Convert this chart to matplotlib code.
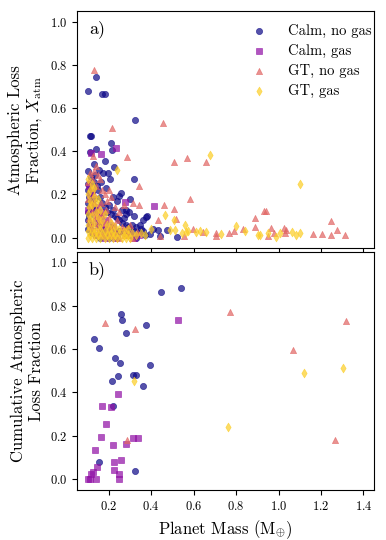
import matplotlib
matplotlib.use("Agg")
import matplotlib.pyplot as plt

plt.rcParams['font.family'] = 'serif'
plt.rcParams['font.serif'] = ['cmr10']
plt.rcParams['mathtext.fontset'] = 'cm'
plt.rcParams['axes.formatter.use_mathtext'] = True

labels = ["Calm, no gas", "Calm, gas", "GT, no gas", "GT, gas"]

# panel a) -- per-planet loss fraction
calm_nogas_m = [0.101, 0.14, 0.169, 0.183, 0.321, 0.109, 0.117, 0.112, 0.14, 0.208, 0.214, 0.128, 0.18, 0.224,
                0.101, 0.153, 0.172, 0.198, 0.134, 0.164, 0.206, 0.318, 0.255, 0.25, 0.302, 0.279, 0.297, 0.318,
                0.373, 0.379, 0.36, 0.345, 0.392, 0.442, 0.522, 0.473, 0.431, 0.407, 0.352,
                0.10, 0.10, 0.105, 0.10, 0.11, 0.10, 0.105, 0.10, 0.11, 0.10, 0.12, 0.13, 0.125, 0.14, 0.15, 0.16,
                0.17, 0.18, 0.19, 0.2, 0.21, 0.22, 0.23, 0.24, 0.25, 0.26, 0.27, 0.28, 0.29, 0.3, 0.31, 0.32, 0.33,
                0.34, 0.36, 0.15, 0.17, 0.19, 0.21, 0.23, 0.25, 0.27, 0.12, 0.14, 0.16, 0.18, 0.2, 0.22, 0.24, 0.3,
                0.33, 0.37, 0.28, 0.26, 0.24, 0.22, 0.185, 0.13, 0.145, 0.115]
calm_nogas_x = [0.68, 0.746, 0.665, 0.665, 0.545, 0.469, 0.469, 0.398, 0.41, 0.44, 0.408, 0.34, 0.357, 0.326,
                0.31, 0.315, 0.30, 0.30, 0.288, 0.26, 0.27, 0.27, 0.208, 0.195, 0.177, 0.129, 0.118, 0.10,
                0.095, 0.098, 0.08, 0.057, 0.018, 0.008, 0.003, 0.034, 0.037, 0.042, 0.042,
                0.25, 0.22, 0.19, 0.16, 0.14, 0.12, 0.10, 0.08, 0.06, 0.04, 0.21, 0.18, 0.15, 0.13, 0.22, 0.19,
                0.16, 0.14, 0.12, 0.15, 0.11, 0.13, 0.10, 0.09, 0.08, 0.07, 0.09, 0.06, 0.05, 0.04, 0.06, 0.03, 0.05,
                0.02, 0.03, 0.06, 0.04, 0.03, 0.05, 0.02, 0.03, 0.02, 0.02, 0.01, 0.0, 0.01, 0.0, 0.01, 0.0, 0.01,
                0.0, 0.01, 0.11, 0.13, 0.17, 0.19, 0.23, 0.26, 0.24, 0.28]

calm_gas_m = [0.235, 0.117, 0.161, 0.277, 0.415,
              0.105, 0.11, 0.12, 0.13, 0.14, 0.15, 0.16, 0.17, 0.18, 0.19, 0.2, 0.21, 0.22, 0.24, 0.26, 0.28,
              0.3, 0.32, 0.1, 0.11, 0.12, 0.14, 0.16, 0.18, 0.2, 0.23, 0.34, 0.15, 0.17]
calm_gas_x = [0.414, 0.392, 0.388, 0.165, 0.146,
              0.24, 0.2, 0.17, 0.12, 0.09, 0.07, 0.10, 0.05, 0.08, 0.04, 0.06, 0.03, 0.05, 0.02, 0.03, 0.01,
              0.02, 0.0, 0.13, 0.06, 0.03, 0.01, 0.02, 0.0, 0.01, 0.0, 0.01, 0.14, 0.12]

gt_nogas_m = [0.132, 0.216, 0.455, 0.286, 0.506, 0.568, 0.656, 0.125, 0.34, 0.583, 0.313, 0.34, 0.458, 0.506,
              0.517, 0.431, 0.887, 0.931, 0.939, 1.248, 0.965, 0.977, 1.024, 1.037, 0.887, 1.16, 1.207, 1.249,
              1.277, 1.315, 0.832, 0.792, 0.766, 0.706, 0.706, 0.599, 0.554, 0.643, 0.439, 0.334, 0.95, 1.03,
              0.11, 0.12, 0.13, 0.14, 0.15, 0.1, 0.12, 0.13, 0.14, 0.16, 0.17, 0.18, 0.19, 0.2, 0.21, 0.1, 0.11,
              0.12, 0.13, 0.14, 0.15, 0.16, 0.17, 0.18, 0.2, 0.22, 0.24, 0.26, 0.28, 0.3, 0.11, 0.13, 0.15, 0.17,
              0.19, 0.21, 0.23, 0.25, 0.27, 0.29, 0.31, 0.105, 0.125, 0.145, 0.165, 0.185, 0.23, 0.25, 0.27]
gt_nogas_x = [0.775, 0.51, 0.53, 0.375, 0.352, 0.371, 0.352, 0.377, 0.238, 0.18, 0.16, 0.15, 0.149, 0.131,
              0.088, 0.083, 0.09, 0.121, 0.121, 0.076, 0.045, 0.021, 0.045, 0.036, 0.049, 0.018, 0.015, 0.011,
              0.034, 0.014, 0.038, 0.03, 0.022, 0.023, 0.008, 0.042, 0.008, 0.026, 0.008, 0.026, 0.008, 0.022,
              0.3, 0.27, 0.31, 0.33, 0.29, 0.26, 0.23, 0.2, 0.24, 0.27, 0.22, 0.2, 0.17, 0.22, 0.19, 0.18, 0.15,
              0.12, 0.16, 0.1, 0.13, 0.08, 0.11, 0.07, 0.09, 0.06, 0.08, 0.05, 0.04, 0.06, 0.05, 0.03, 0.02, 0.01,
              0.03, 0.01, 0.02, 0.0, 0.01, 0.02, 0.0, 0.09, 0.07, 0.05, 0.16, 0.13, 0.14, 0.12, 0.15]

gt_gas_m = [0.678, 1.102, 0.239, 0.466, 0.505, 0.56, 0.4, 0.51, 0.544, 0.565, 0.628, 0.659, 0.73, 0.798, 0.903,
            0.84, 0.486, 0.911, 0.95, 0.986, 1.008, 1.065, 1.084, 1.103, 0.612, 0.572,
            0.1, 0.11, 0.12, 0.13, 0.14, 0.15, 0.16, 0.17, 0.18, 0.19, 0.2, 0.21, 0.22, 0.23, 0.24, 0.25, 0.26,
            0.27, 0.28, 0.29, 0.3, 0.1, 0.12, 0.14, 0.16, 0.18, 0.2, 0.22, 0.1, 0.11, 0.12, 0.13, 0.14, 0.15,
            0.16, 0.17, 0.1, 0.105, 0.11, 0.1, 0.12, 0.13, 0.14, 0.15, 0.16, 0.11, 0.12, 0.1, 0.13, 0.18, 0.19,
            0.21, 0.23, 0.25, 0.27, 0.29, 0.31, 0.33, 0.35, 0.37]
gt_gas_x = [0.381, 0.249, 0.315, 0.103, 0.081, 0.058, 0.042, 0.035, 0.023, 0.026, 0.031, 0.028, 0.019, 0.054, 0.011,
            0.031, 0.034, 0.014, 0.022, 0.003, 0.022, 0.025, 0.014, 0.022, 0.026, 0.031,
            0.0, 0.01, 0.0, 0.02, 0.0, 0.01, 0.0, 0.02, 0.0, 0.01, 0.0, 0.02, 0.0, 0.01, 0.0, 0.02, 0.0,
            0.01, 0.0, 0.01, 0.0, 0.03, 0.04, 0.03, 0.04, 0.03, 0.04, 0.03, 0.06, 0.08, 0.10, 0.07, 0.12, 0.09,
            0.06, 0.08, 0.11, 0.14, 0.17, 0.2, 0.15, 0.19, 0.16, 0.18, 0.13, 0.22, 0.25, 0.27, 0.23, 0.11, 0.06,
            0.07, 0.05, 0.04, 0.03, 0.04, 0.02, 0.01, 0.02, 0.01]

# panel b) -- cumulative loss fraction
cum_calm_nogas_m = [0.444, 0.539, 0.258, 0.26, 0.374, 0.282, 0.128, 0.154, 0.23, 0.253, 0.393, 0.316, 0.329,
                    0.242, 0.214, 0.362, 0.219, 0.154, 0.323]
cum_calm_nogas_x = [0.864, 0.881, 0.764, 0.735, 0.713, 0.676, 0.645, 0.606, 0.56, 0.537, 0.525, 0.483, 0.483,
                    0.478, 0.452, 0.429, 0.338, 0.079, 0.037]
cum_calm_gas_m = [0.525, 0.244, 0.169, 0.211, 0.187, 0.161, 0.22, 0.279, 0.316, 0.337, 0.136, 0.145, 0.125,
                  0.117, 0.101, 0.109, 0.14, 0.224, 0.255, 0.224, 0.247, 0.247]
cum_calm_gas_x = [0.736, 0.394, 0.336, 0.332, 0.253, 0.193, 0.156, 0.164, 0.188, 0.19, 0.134, 0.057, 0.031,
                  0.025, 0.0, 0.0, 0.0, 0.077, 0.09, 0.043, 0.023, 0.0]
cum_gt_nogas_m = [0.181, 0.323, 0.773, 1.317, 1.066, 0.285, 1.267]
cum_gt_nogas_x = [0.719, 0.694, 0.772, 0.73, 0.594, 0.179, 0.179]
cum_gt_gas_m = [0.319, 0.761, 1.118, 1.304]
cum_gt_gas_x = [0.451, 0.241, 0.491, 0.512]

colors = plt.cm.plasma([0.0, 0.3, 0.6, 0.9])
markers = ['o', 's', '^', 'd']

fig = plt.figure(figsize=(3.86, 5.40), dpi=100)
ax1 = fig.add_axes([0.1995, 0.540, 0.7695, 0.4396])
ax2 = fig.add_axes([0.1995, 0.0926, 0.7695, 0.4414], sharex=ax1)

top = [(calm_nogas_m, calm_nogas_x), (calm_gas_m, calm_gas_x), (gt_nogas_m, gt_nogas_x), (gt_gas_m, gt_gas_x)]
bot = [(cum_calm_nogas_m, cum_calm_nogas_x), (cum_calm_gas_m, cum_calm_gas_x),
       (cum_gt_nogas_m, cum_gt_nogas_x), (cum_gt_gas_m, cum_gt_gas_x)]

for i in range(4):
    ax1.scatter(top[i][0], top[i][1], s=20, marker=markers[i], color=colors[i], alpha=0.7,
                linewidths=0.5, label=labels[i])
    ax2.scatter(bot[i][0], bot[i][1], s=20, marker=markers[i], color=colors[i], alpha=0.7,
                linewidths=0.5)

ax1.set_xlim(0.05, 1.45)
ax1.set_ylim(-0.05, 1.05)
ax2.set_ylim(-0.05, 1.05)
ax1.tick_params(labelbottom=False, labelsize=9)
ax2.tick_params(labelsize=9)
ax1.set_yticks([0.0, 0.2, 0.4, 0.6, 0.8, 1.0])
ax2.set_yticks([0.0, 0.2, 0.4, 0.6, 0.8, 1.0])
ax2.set_xticks([0.2, 0.4, 0.6, 0.8, 1.0, 1.2, 1.4])

ax1.set_ylabel("Atmospheric Loss\nFraction, $X_{\\rm atm}$", fontsize=12)
ax2.set_ylabel("Cumulative Atmospheric\nLoss Fraction", fontsize=12)
ax2.set_xlabel("Planet Mass (M$_{\\oplus}$)", fontsize=12)

ax1.text(0.04, 0.96, "a)", transform=ax1.transAxes, fontsize=13, va='top')
ax2.text(0.04, 0.96, "b)", transform=ax2.transAxes, fontsize=13, va='top')

ax1.legend(loc='upper right', bbox_to_anchor=(1.035, 1.0), frameon=False, fontsize=10.5,
           handletextpad=1.0, labelspacing=0.4)

plt.savefig('out.png', dpi=100)
